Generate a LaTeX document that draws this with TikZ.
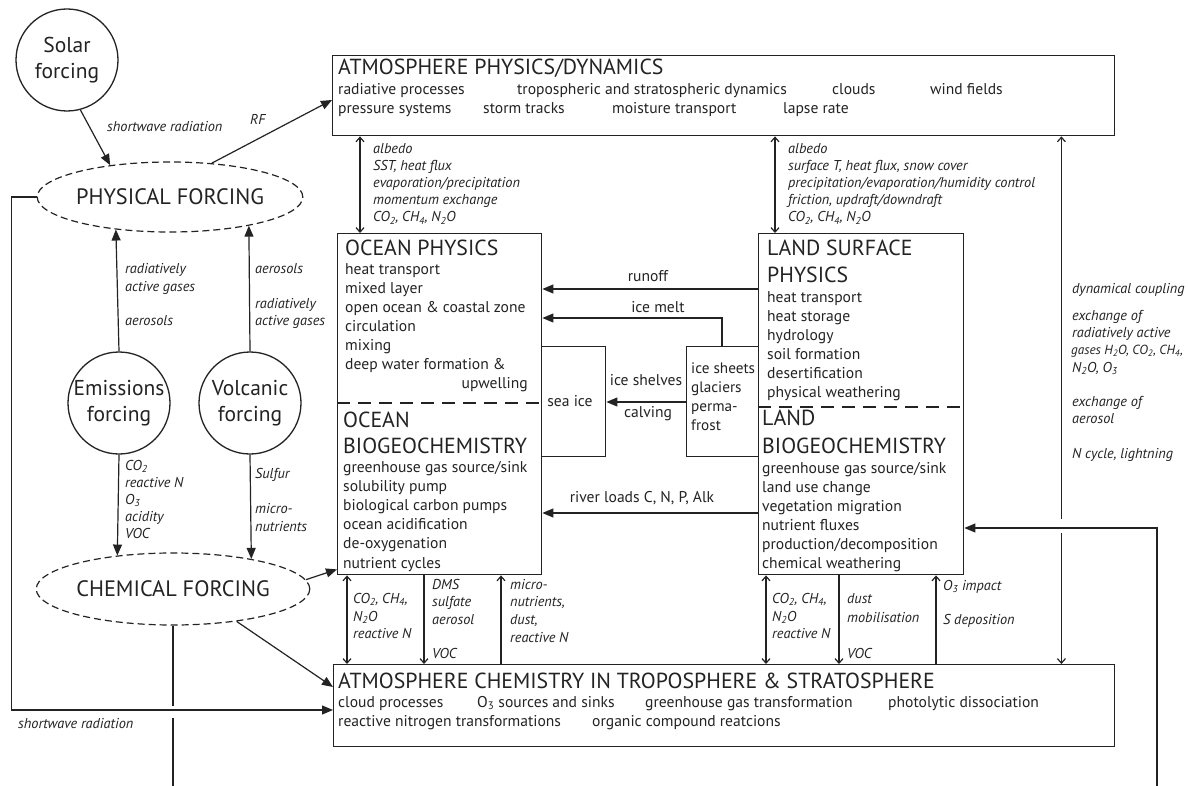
\documentclass[tikz,border=0pt]{standalone}
\usepackage{fontspec}
\setmainfont{PT Sans}
\usetikzlibrary{arrows.meta,shapes.geometric}
\definecolor{ink}{HTML}{232323}
\newcommand\sbs[1]{\textsubscript{#1}}
\begin{document}
\begin{tikzpicture}[x=1pt,y=-1pt,
  every node/.style={inner sep=0pt, text=ink},
  box/.style={draw=ink, line width=1.4pt, rectangle, anchor=north west},
  ttl/.style={anchor=base west, font=\fontsize{21.8}{24}\selectfont},
  itm/.style={anchor=base west, font=\fontsize{15.6}{18}\selectfont},
  lab/.style={anchor=base west, font=\fontsize{14.3}{16}\selectfont\itshape},
  ln/.style={draw=ink, line width=1.2pt},
  fa/.style={ln, -{Triangle[length=11pt,width=9pt]}},
  oa/.style={ln, -{Straight Barb[length=4.5pt,width=8pt]}},
  da/.style={ln, {Straight Barb[length=4.5pt,width=8pt]}-{Straight Barb[length=4.5pt,width=8pt]}},
  circ/.style={draw=ink, line width=1.3pt, circle, minimum size=102pt, align=center, font=\fontsize{21.5}{26}\selectfont},
  ell/.style={draw=ink, line width=1.2pt, dash pattern=on 7pt off 4pt, ellipse, font=\fontsize{22.3}{24}\selectfont},
  divider/.style={draw=ink, line width=1.4pt, dash pattern=on 13pt off 8pt},
]
\fill[white] (0,0) rectangle (1188,786);
\useasboundingbox (0,0) rectangle (1188,786);

% boxes
\node[box, minimum width=782pt, minimum height=80pt] (atmp) at (332,55) {};
\node[box, minimum width=204pt, minimum height=341pt] (ocean) at (337,233) {};
\node[box, minimum width=64pt, minimum height=110pt] (seaice) at (541,346) {};
\node[box, minimum width=72pt, minimum height=110pt] (ice) at (686,346) {};
\node[box, minimum width=205pt, minimum height=341pt] (land) at (758,233) {};
\node[box, minimum width=781pt, minimum height=82pt] (atmc) at (333,664) {};
\draw[divider] ([yshift=-170pt]ocean.north west) -- ([yshift=-170pt]ocean.north east);
\draw[divider] ([yshift=-174pt]land.north west) -- ([yshift=-174pt]land.north east);

% circles and ellipses
\node[circ] (solar) at (67,60) {Solar\\forcing};
\node[circ] (emis) at (119,403) {Emissions\\forcing};
\node[circ] (volc) at (250,403) {Volcanic\\forcing};
\node[ell, minimum width=264pt, minimum height=70pt] (phys) at (170,197) {PHYSICAL FORCING};
\node[ell, minimum width=262pt, minimum height=72pt] (chem) at (173,589) {CHEMICAL FORCING};

% atmosphere physics text
\node[ttl] (atmpt) at (338,75) {ATMOSPHERE PHYSICS/DYNAMICS};
\node[itm] at (338,95) {radiative processes};
\node[itm] at (517,95) {tropospheric and stratospheric dynamics};
\node[itm] at (832,95) {clouds};
\node[itm] at (930,95) {wind fields};
\node[itm] at (338,114) {pressure systems};
\node[itm] at (483,114) {storm tracks};
\node[itm] at (612,114) {moisture transport};
\node[itm] at (783,114) {lapse rate};

% ocean text
\node[ttl] (ocpt) at (345,255) {OCEAN PHYSICS};
\foreach \t [count=\i from 0] in {heat transport, mixed layer, open ocean \& coastal zone, circulation, mixing, deep water formation \&}
  \node[itm] at (345,274+19*\i) {\t};
\node[itm, anchor=base east] at (528,388) {upwelling};
\node[ttl] (ocbt) at (343,427) {OCEAN};
\node[ttl] at (343,453) {BIOGEOCHEMISTRY};
\foreach \t [count=\i from 0] in {greenhouse gas source/sink, solubility pump, biological carbon pumps, ocean acidification, de-oxygenation, nutrient cycles}
  \node[itm] at (343,472+19.2*\i) {\t};

% land text
\node[ttl] (lspt) at (767,255) {LAND SURFACE};
\node[ttl] at (767,283) {PHYSICS};
\foreach \t [count=\i from 0] in {heat transport, heat storage, hydrology, soil formation, desertification, physical weathering}
  \node[itm] at (767,302+19*\i) {\t};
\node[ttl] (lbt) at (762,425) {LAND};
\node[ttl] at (762,453) {BIOGEOCHEMISTRY};
\foreach \t [count=\i from 0] in {greenhouse gas source/sink, land use change, vegetation migration, nutrient fluxes, production/decomposition, chemical weathering}
  \node[itm] at (762,473+19*\i) {\t};

% sea ice / ice sheets
\node[itm, anchor=base] (seat) at (570,406) {sea ice};
\foreach \t [count=\i from 0] in {ice sheets, glaciers, perma-, frost}
  \node[itm, font=\fontsize{15.2}{18}\selectfont] at (691,373+19.3*\i) {\t};

% atmosphere chemistry text
\node[ttl] (atmct) at (338,688) {ATMOSPHERE CHEMISTRY IN TROPOSPHERE \& STRATOSPHERE};
\node[itm] at (338,707) {cloud processes};
\node[itm] at (477,707) {O\sbs{3} sources and sinks};
\node[itm] at (645,707) {greenhouse gas transformation};
\node[itm] at (888,707) {photolytic dissociation};
\node[itm] at (338,726) {reactive nitrogen transformations};
\node[itm] at (592,726) {organic compound reatcions};

% connectors: forcing side
\draw[fa] (solar.-75) -- (phys.152.5);
\node[lab] at (107,132) {shortwave radiation};
\draw[fa] (phys.39.9) -- ([yshift=-45pt]atmp.north west);
\node[lab] at (250,125) {RF};
\draw[fa] (phys.west) -- ++(-25,0) |- ([yshift=-46pt]atmc.north west);
\node[lab] at (18,728) {shortwave radiation};

\draw[fa] (emis.north) -- (phys.211.6);
\node[lab] at (125,273) {radiatively};
\node[lab] at (125,291) {active gases};
\node[lab] at (125,325) {aerosols};
\draw[fa] (volc.north) -- (phys.340.5);
\node[lab] at (255,273) {aerosols};
\node[lab] at (255,308) {radiatively};
\node[lab] at (255,325) {active gases};

\draw[fa] (emis.south) -- (chem.149.3);
\foreach \t [count=\i from 0] in {CO\sbs{2}, reactive N, O\sbs{3}, acidity, VOC}
  \node[lab] at (125,470+17.2*\i) {\t};
\draw[fa] (volc.south) -- (chem.21.1);
\node[lab] at (255,478) {Sulfur};
\node[lab] at (255,513) {micro-};
\node[lab] at (255,531) {nutrients};

\draw[fa] (chem.4) -- ([yshift=6pt]ocean.south west);
\draw[fa] (chem.333.9) -- ([yshift=-23pt]atmc.north west);
\coordinate (cbot) at (173,786);
\draw[ln] (chem.south) -- ([yshift=-80pt]chem.south);
\draw[ln] ([yshift=-92pt]chem.south) -- (chem.south |- cbot);

% atmosphere physics <-> ocean / land
\draw[da] ([xshift=28pt]atmp.south west) -- ([xshift=28pt]atmp.south west |- ocean.north);
\node[lab] at (373,154) {albedo};
\node[lab] at (373,171) {SST, heat flux};
\node[lab] at (373,188) {evaporation/precipitation};
\node[lab] at (373,205) {momentum exchange};
\node[lab] at (373,222) {CO\sbs{2}, CH\sbs{4}, N\sbs{2}O};
\draw[da] ([xshift=443pt]atmp.south west) -- ([xshift=443pt]atmp.south west |- land.north);
\node[lab] at (788,154) {albedo};
\node[lab] at (788,171) {surface T, heat flux, snow cover};
\node[lab] at (788,188) {precipitation/evaporation/humidity control};
\node[lab] at (788,205) {friction, updraft/downdraft};
\node[lab] at (788,222) {CO\sbs{2}, CH\sbs{4}, N\sbs{2}O};

% land -> ocean
\draw[fa] ([yshift=-56pt]land.north west) -- ([yshift=-56pt]land.north west -| ocean.east);
\node[itm, anchor=base] at (648,282) {runoff};
\draw[fa] ([xshift=36pt]ice.north west) |- ([yshift=-85pt]ocean.north east);
\node[itm, anchor=base] at (658,312) {ice melt};
\draw[fa] ([yshift=-56pt]ice.north west) -- ([yshift=-56pt]ice.north west -| seaice.east);
\node[itm, anchor=base] at (646,385) {ice shelves};
\node[itm, anchor=base] at (648,417) {calving};
\draw[fa] ([yshift=-280pt]land.north west) -- ([yshift=-280pt]land.north west -| ocean.east);
\node[itm, anchor=base] at (642,502) {river loads C, N, P, Alk};

% right side
\draw[oa] ([xshift=-54pt,yshift=145pt]atmc.north east) -- ([xshift=-54pt]atmc.north east |- atmp.south);
\draw[oa] ([xshift=-54pt,yshift=131pt]atmc.north east) -- ([xshift=-54pt]atmc.north east);
\coordinate (rbot) at (1157,786);
\draw[fa] (rbot) |- ([yshift=-295pt]land.north east);
\node[lab] at (1072,294) {dynamical coupling};
\node[lab] at (1072,320) {exchange of};
\node[lab] at (1072,337) {radiatively active};
\node[lab, font=\fontsize{13.2}{16}\selectfont\itshape] at (1071,354) {gases H\sbs{2}O, CO\sbs{2}, CH\sbs{4},};
\node[lab] at (1072,372) {N\sbs{2}O, O\sbs{3}};
\node[lab] at (1072,406) {exchange of};
\node[lab] at (1072,423) {aerosol};
\node[lab] at (1072,458) {N cycle, lightning};

% ocean <-> atmosphere chemistry
\draw[da] ([xshift=10pt]ocean.south west) -- ([xshift=10pt]ocean.south west |- atmc.north);
\node[lab] at (353,603) {CO\sbs{2}, CH\sbs{4},};
\node[lab] at (353,621) {N\sbs{2}O};
\node[lab] at (353,638) {reactive N};
\draw[oa] ([xshift=87pt]ocean.south west) -- ([xshift=87pt]ocean.south west |- atmc.north);
\node[lab] at (432,589) {DMS};
\node[lab] at (432,606) {sulfate};
\node[lab] at (432,624) {aerosol};
\node[lab] at (432,658) {VOC};
\draw[oa] ([xshift=164pt]ocean.south west |- atmc.north) -- ([xshift=164pt]ocean.south west);
\node[lab] at (510,589) {micro-};
\node[lab] at (510,606) {nutrients,};
\node[lab] at (510,624) {dust,};
\node[lab] at (510,642) {reactive N};

% land <-> atmosphere chemistry
\draw[da] ([xshift=8pt]land.south west) -- ([xshift=8pt]land.south west |- atmc.north);
\node[lab] at (772,603) {CO\sbs{2}, CH\sbs{4},};
\node[lab] at (772,621) {N\sbs{2}O};
\node[lab] at (772,638) {reactive N};
\draw[oa] ([xshift=81pt]land.south west) -- ([xshift=81pt]land.south west |- atmc.north);
\node[lab] at (847,603) {dust};
\node[lab] at (847,622) {mobilisation};
\node[lab] at (847,658) {VOC};
\draw[oa] ([xshift=178pt]land.south west |- atmc.north) -- ([xshift=178pt]land.south west);
\node[lab] at (943,590) {O\sbs{3} impact};
\node[lab] at (943,624) {S deposition};
\end{tikzpicture}
\end{document}
